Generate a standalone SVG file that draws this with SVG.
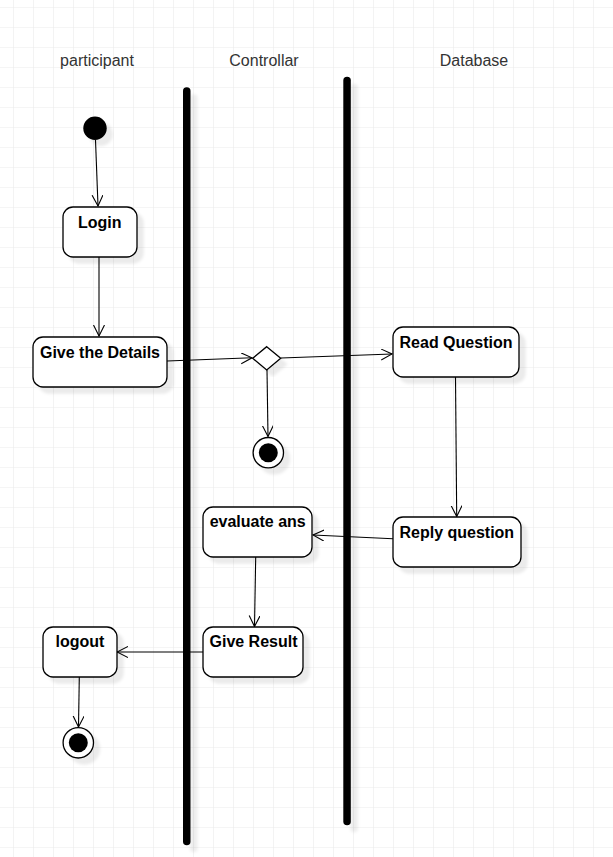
<svg xmlns="http://www.w3.org/2000/svg" width="613" height="857" viewBox="0 0 613 857">
<defs>
  <pattern id="grid" x="13" y="7" width="20" height="20" patternUnits="userSpaceOnUse">
    <path d="M0,0 H20 M0,0 V20" fill="none" stroke="#ebebeb" stroke-width="1.2"/>
  </pattern>
  <filter id="sh" x="-20%" y="-20%" width="150%" height="150%">
    <feGaussianBlur in="SourceAlpha" stdDeviation="1.5" result="b"/>
    <feOffset in="b" dx="6" dy="6" result="o"/>
    <feFlood flood-color="#000" flood-opacity="0.08"/>
    <feComposite in2="o" operator="in" result="s"/>
    <feMerge><feMergeNode in="s"/><feMergeNode in="SourceGraphic"/></feMerge>
  </filter>
  <filter id="shbar" filterUnits="userSpaceOnUse" x="150" y="60" width="240" height="800">
    <feGaussianBlur in="SourceAlpha" stdDeviation="1.5" result="b"/>
    <feOffset in="b" dx="7" dy="7" result="o"/>
    <feFlood flood-color="#000" flood-opacity="0.07"/>
    <feComposite in2="o" operator="in" result="s"/>
    <feMerge><feMergeNode in="s"/><feMergeNode in="SourceGraphic"/></feMerge>
  </filter>
  <marker id="open" viewBox="0 0 12 12" refX="11" refY="5.5" markerWidth="12" markerHeight="12" markerUnits="userSpaceOnUse" orient="auto">
    <path d="M0,0 L11,5.5 L0,11" fill="none" stroke="#000" stroke-width="1.1"/>
  </marker>
  <style>
    .lane{font-family:"Liberation Sans",Arial,sans-serif;font-size:16px;fill:#333;text-anchor:middle}
    .act rect{fill:#fff;stroke:#000;stroke-width:1.3}
    .act text{font-family:"Liberation Sans",Arial,sans-serif;font-size:16px;font-weight:bold;fill:#000;text-anchor:middle}
    .bar{fill:#000}
    .edge{stroke:#000;stroke-width:1.1;fill:none;marker-end:url(#open)}
  </style>
</defs>
<rect width="613" height="857" fill="#fff"/>
<rect width="613" height="857" fill="url(#grid)"/>

<g id="lanes">
  <text class="lane" x="97" y="66">participant</text>
  <text class="lane" x="264" y="66">Controllar</text>
  <text class="lane" x="474" y="66">Database</text>
  <rect class="bar" x="183" y="87.3" width="7.5" height="758" rx="3.75" filter="url(#shbar)"/>
  <rect class="bar" x="343.3" y="76.7" width="7.5" height="748.6" rx="3.75" filter="url(#shbar)"/>
</g>

<g id="edges">
  <line class="edge" x1="95.5" y1="140" x2="98" y2="206"/>
  <line class="edge" x1="99" y1="257" x2="99" y2="336"/>
  <line class="edge" x1="167" y1="361" x2="252" y2="357.8"/>
  <line class="edge" x1="281" y1="358" x2="392" y2="354"/>
  <line class="edge" x1="267" y1="370" x2="268" y2="436.5"/>
  <line class="edge" x1="455.5" y1="377" x2="456.7" y2="516.5"/>
  <line class="edge" x1="393" y1="538.7" x2="313" y2="535"/>
  <line class="edge" x1="255.7" y1="557" x2="254.5" y2="626.5"/>
  <line class="edge" x1="203" y1="652" x2="117" y2="652"/>
  <line class="edge" x1="79.3" y1="677" x2="78.5" y2="727"/>
</g>

<g id="start">
  <circle cx="95" cy="128.3" r="11.7" fill="#000" filter="url(#sh)"/>
</g>

<g id="login" class="act">
  <rect x="63" y="207" width="74" height="50" rx="10" filter="url(#sh)"/>
  <text x="99.7" y="228.3">Login</text>
</g>

<g id="give-details" class="act">
  <rect x="33" y="337" width="134" height="50" rx="10" filter="url(#sh)"/>
  <text x="100" y="358">Give the Details</text>
</g>

<g id="decision">
  <path d="M266.7,346.7 L280.7,358.3 L266.7,370 L252.7,358.3 Z" fill="#fff" stroke="#000" stroke-width="1.3" filter="url(#sh)"/>
</g>

<g id="end1">
  <circle cx="268.3" cy="452.7" r="15.2" fill="#fff" stroke="#000" stroke-width="1.3" filter="url(#sh)"/>
  <circle cx="268.3" cy="452.7" r="9.5" fill="#000"/>
</g>

<g id="read-question" class="act">
  <rect x="393" y="327" width="126" height="50" rx="10" filter="url(#sh)"/>
  <text x="456" y="348.3">Read Question</text>
</g>

<g id="reply-question" class="act">
  <rect x="393" y="517" width="128" height="50" rx="10" filter="url(#sh)"/>
  <text x="456.8" y="538">Reply question</text>
</g>

<g id="evaluate-ans" class="act">
  <rect x="203" y="507" width="109" height="50" rx="10" filter="url(#sh)"/>
  <text x="257.7" y="527.3">evaluate ans</text>
</g>

<g id="give-result" class="act">
  <rect x="203" y="627" width="100" height="50" rx="10" filter="url(#sh)"/>
  <text x="253.5" y="647.3">Give Result</text>
</g>

<g id="logout" class="act">
  <rect x="43" y="627" width="74" height="50" rx="10" filter="url(#sh)"/>
  <text x="80" y="647">logout</text>
</g>

<g id="end2">
  <circle cx="78.3" cy="742.8" r="15.2" fill="#fff" stroke="#000" stroke-width="1.3" filter="url(#sh)"/>
  <circle cx="78.3" cy="742.8" r="9.5" fill="#000"/>
</g>
</svg>
